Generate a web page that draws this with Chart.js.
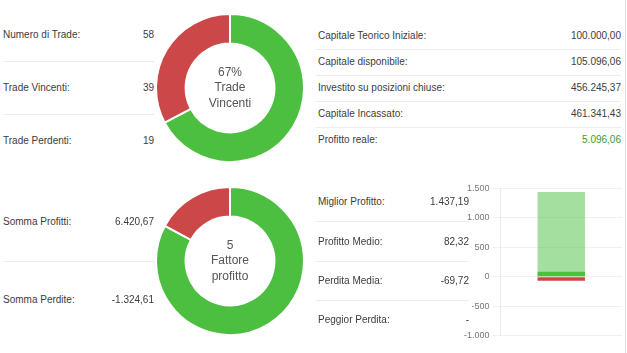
<!DOCTYPE html>
<html>
<head>
<meta charset="utf-8">
<script src="https://cdn.jsdelivr.net/npm/chart.js@4.4.1/dist/chart.umd.min.js"></script>
<style>
body { margin: 0; background: #fff; font-family: "Liberation Sans", Arial, sans-serif; font-size: 10px; color: #3c3c3c; }
#wrap { position: relative; width: 627px; height: 353px; overflow: hidden; }
.t { position: absolute; height: 14px; line-height: 14px; white-space: nowrap; }
.sep { position: absolute; height: 1px; background: #ececec; }
canvas { position: absolute; }
</style>
</head>
<body>
<div id="wrap">
  <canvas id="tradeChart" width="150" height="150" style="left:155px;top:13px"></canvas>
  <canvas id="profitChart" width="150" height="150" style="left:155px;top:186px"></canvas>
  <canvas id="barChart" width="161" height="164" style="left:461px;top:180px"></canvas>
  <div style="position:absolute;left:625px;top:0;width:1px;height:353px;background:#e2e2e2"></div>
</div>
<script>
// dati
const tradeLabels = ['Numero di Trade:', 'Trade Vincenti:', 'Trade Perdenti:'];
const tradeValues = [58, 39, 19];

const capitalLabels = ['Capitale Teorico Iniziale:', 'Capitale disponibile:', 'Investito su posizioni chiuse:', 'Capitale Incassato:', 'Profitto reale:'];
const capitalValues = [100000.00, 105096.06, 456245.37, 461341.43, 5096.06];

const sumLabels = ['Somma Profitti:', 'Somma Perdite:'];
const sumValues = [6420.67, -1324.61];

const statLabels = ['Miglior Profitto:', 'Profitto Medio:', 'Perdita Media:', 'Peggior Perdita:'];
const statValues = [1437.19, 82.32, -69.72, null];

const yTicks = [-1000, -500, 0, 500, 1000, 1500];

const green = '#4cbf41';
const red = '#cc4747';

function fmt(v, dec) {
    if (v === null) return '-';
    const neg = v < 0;
    const parts = Math.abs(v).toFixed(dec).split('.');
    const int = parts[0].replace(/\B(?=(\d{3})+(?!\d))/g, '.');
    return (neg ? '-' : '') + int + (dec ? ',' + parts[1] : '');
}

const wrap = document.getElementById('wrap');
function text(str, x, y, right, color) {
    const d = document.createElement('div');
    d.className = 't';
    d.textContent = str;
    d.style.top = (y - 7) + 'px';
    if (right) d.style.right = (627 - x) + 'px'; else d.style.left = x + 'px';
    if (color) d.style.color = color;
    wrap.appendChild(d);
}
function sep(x1, x2, y) {
    const d = document.createElement('div');
    d.className = 'sep';
    d.style.left = x1 + 'px';
    d.style.width = (x2 - x1) + 'px';
    d.style.top = y + 'px';
    wrap.appendChild(d);
}

// tabelle
const tradeRows = [35, 88, 141];
tradeLabels.forEach((l, i) => { text(l, 3, tradeRows[i]); text(String(tradeValues[i]), 154, tradeRows[i], true); });
sep(3, 154, 61); sep(3, 154, 114);

const capRows = [36, 62, 88, 114, 140];
capitalLabels.forEach((l, i) => {
    text(l, 318, capRows[i]);
    text(fmt(capitalValues[i], 2), 621, capRows[i], true, i === 4 ? '#3a9a3a' : null);
});
[49, 75, 101, 127].forEach(y => sep(316, 621, y));

const sumRows = [222, 300];
sumLabels.forEach((l, i) => { text(l, 3, sumRows[i]); text(fmt(sumValues[i], 2), 154, sumRows[i], true); });
sep(3, 154, 261);

const statRows = [202, 242, 281, 320];
statLabels.forEach((l, i) => { text(l, 318, statRows[i]); text(fmt(statValues[i], 2), 469, statRows[i], true); });
[221, 261, 300].forEach(y => sep(316, 469, y));

// testo al centro delle ciambelle
const centerText = {
    id: 'centerText',
    afterDraw(chart, args, opts) {
        const { ctx, chartArea } = chart;
        const cx = (chartArea.left + chartArea.right) / 2;
        const cy = (chartArea.top + chartArea.bottom) / 2;
        ctx.save();
        ctx.font = '12px "Liberation Sans", Arial, sans-serif';
        ctx.fillStyle = '#555';
        ctx.textAlign = 'center';
        ctx.textBaseline = 'middle';
        opts.lines.forEach((t, i) => ctx.fillText(t, cx, cy + (i - 1) * 15.5));
        ctx.restore();
    }
};

const winPct = Math.round(tradeValues[1] / tradeValues[0] * 100);
const profitFactor = Math.round(sumValues[0] / Math.abs(sumValues[1]));

// Trade Chart
new Chart(document.getElementById('tradeChart'), {
    type: 'doughnut',
    data: {
        labels: ['Vincenti', 'Perdenti'],
        datasets: [{
            data: [tradeValues[1], tradeValues[2]],
            backgroundColor: [green, red],
            borderColor: '#fff',
            borderWidth: 2
        }]
    },
    options: {
        responsive: false,
        animation: false,
        cutout: '60%',
        plugins: {
            legend: { display: false },
            tooltip: { enabled: false },
            centerText: { lines: [winPct + '%', 'Trade', 'Vincenti'] }
        }
    },
    plugins: [centerText]
});

// Profit Chart
new Chart(document.getElementById('profitChart'), {
    type: 'doughnut',
    data: {
        labels: ['Profitti', 'Perdite'],
        datasets: [{
            data: [sumValues[0], Math.abs(sumValues[1])],
            backgroundColor: [green, red],
            borderColor: '#fff',
            borderWidth: 2
        }]
    },
    options: {
        responsive: false,
        animation: false,
        cutout: '60%',
        plugins: {
            legend: { display: false },
            tooltip: { enabled: false },
            centerText: { lines: [String(profitFactor), 'Fattore', 'profitto'] }
        }
    },
    plugins: [centerText]
});

// Bar Chart
new Chart(document.getElementById('barChart'), {
    type: 'bar',
    data: {
        labels: [''],
        datasets: [
            { label: 'Profitto Medio', data: [statValues[1]], backgroundColor: green, order: 0 },
            { label: 'Perdita Media', data: [statValues[2]], backgroundColor: red, order: 1 },
            { label: 'Peggior Perdita', data: [statValues[3]], backgroundColor: red, order: 2 },
            { label: 'Miglior Profitto', data: [statValues[0]], backgroundColor: 'rgba(76,191,65,0.5)', order: 3 }
        ]
    },
    options: {
        responsive: false,
        animation: false,
        layout: { padding: { top: 7, bottom: 4 } },
        plugins: { legend: { display: false }, tooltip: { enabled: false } },
        datasets: { bar: { barPercentage: 0.5, categoryPercentage: 0.78 } },
        scales: {
            x: { stacked: true, display: false },
            y: {
                min: yTicks[0],
                max: yTicks[yTicks.length - 1],
                afterBuildTicks: axis => { axis.ticks = yTicks.map(v => ({ value: v })); },
                grid: { color: 'rgba(0,0,0,0.06)' },
                border: { color: 'rgba(0,0,0,0.08)' },
                ticks: {
                    color: '#777',
                    font: { size: 9, family: '"Liberation Sans", Arial, sans-serif' },
                    callback: v => fmt(v, 0)
                }
            }
        }
    }
});
</script>
</body>
</html>
